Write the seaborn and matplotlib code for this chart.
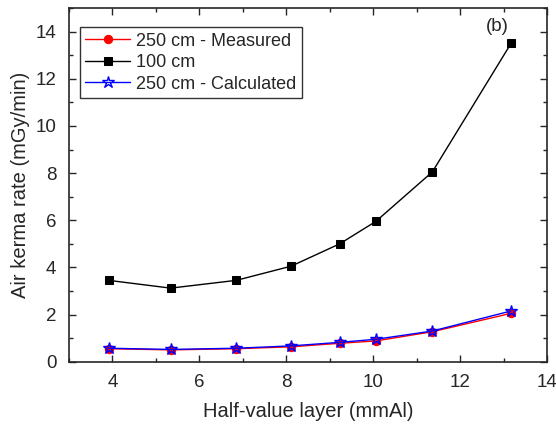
import pandas as pd
import seaborn as sns
import matplotlib.pyplot as plt
from matplotlib.ticker import MultipleLocator

hvl = [3.91, 5.34, 6.85, 8.11, 9.23, 10.06, 11.36, 13.17]
measured_250 = [0.55, 0.50, 0.55, 0.63, 0.78, 0.88, 1.27, 2.05]
dist_100 = [3.45, 3.12, 3.45, 4.05, 5.00, 5.95, 8.05, 13.50]
calculated_250 = [0.57, 0.52, 0.57, 0.67, 0.82, 0.95, 1.30, 2.15]


def main():
    sns.set_style("ticks")
    plt.rcParams['font.family'] = ['Liberation Sans', 'DejaVu Sans']
    plt.rcParams['xtick.direction'] = 'in'
    plt.rcParams['ytick.direction'] = 'in'

    fig = plt.figure(figsize=(5.56, 4.25), dpi=100)
    ax = fig.add_axes([0.124, 0.149, 0.86, 0.832])

    df = pd.DataFrame({"hvl": hvl, "m": measured_250, "d": dist_100, "c": calculated_250})

    sns.lineplot(data=df, x="hvl", y="m", ax=ax, color="red", lw=1, marker="o",
                 markersize=6, markeredgecolor="red", label="250 cm - Measured")
    sns.lineplot(data=df, x="hvl", y="d", ax=ax, color="black", lw=1, marker="s",
                 markersize=5.5, markeredgecolor="black", label="100 cm")
    sns.lineplot(data=df, x="hvl", y="c", ax=ax, color="blue", lw=1, marker="*",
                 markersize=9, markerfacecolor="none", markeredgecolor="blue",
                 markeredgewidth=1, label="250 cm - Calculated")

    ax.set_xlim(3, 14)
    ax.set_ylim(0, 15)
    ax.xaxis.set_major_locator(MultipleLocator(2))
    ax.xaxis.set_minor_locator(MultipleLocator(1))
    ax.yaxis.set_major_locator(MultipleLocator(2))
    ax.yaxis.set_minor_locator(MultipleLocator(1))
    ax.tick_params(which='both', top=True, right=True, direction='in',
                   labelsize=13.5, width=1)
    ax.tick_params(which='major', length=5, pad=9)
    ax.tick_params(which='minor', length=3)
    for s in ax.spines.values():
        s.set_linewidth(1.2)

    ax.set_xlabel("Half-value layer (mmAl)", fontsize=14.5, labelpad=8)
    ax.set_ylabel("Air kerma rate (mGy/min)", fontsize=14.5, labelpad=4)
    ax.text(12.85, 14.2, "(b)", fontsize=13.5, ha="center", va="center")

    leg = ax.legend(loc="upper left", bbox_to_anchor=(0.023, 0.946), fontsize=13,
                    frameon=True, fancybox=False, edgecolor="black",
                    handlelength=2.5, borderpad=0.3, labelspacing=0.25,
                    handletextpad=0.3, borderaxespad=0)
    leg.get_frame().set_linewidth(1)

    fig.savefig("out.png", dpi=100)


if __name__ == "__main__":
    main()
